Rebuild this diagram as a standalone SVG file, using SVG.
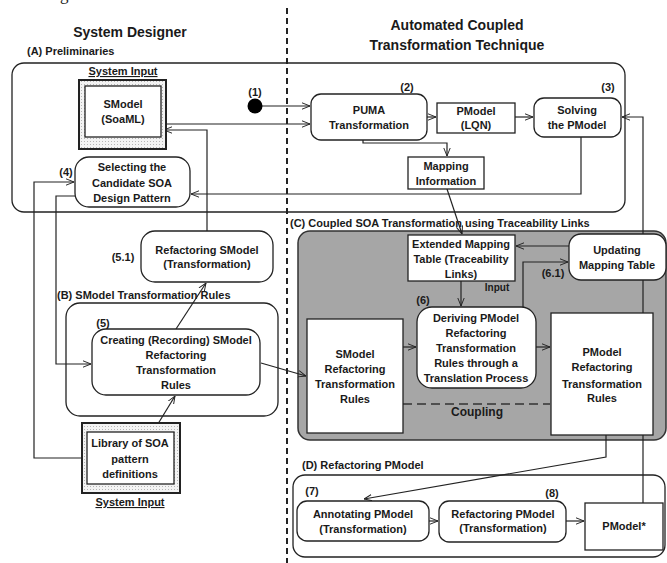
<svg xmlns="http://www.w3.org/2000/svg" width="667" height="563" viewBox="0 0 667 563">
  <defs>
    <style>
      text { font-family: "Liberation Sans", Arial, sans-serif; font-weight: bold; fill: #1a1a1a; }
      .t { font-size: 11px; text-anchor: middle; }
      .lbl { font-size: 11px; }
      .num { font-size: 11px; text-anchor: middle; }
      .title { font-size: 14px; text-anchor: middle; }
      .box { fill: #fff; stroke: #222; stroke-width: 1.3; }
      .frame { fill: none; stroke: #222; stroke-width: 1.3; }
      .edge { fill: none; stroke: #222; stroke-width: 1.2; }
      .ul { text-decoration: underline; }
    </style>
    <pattern id="stipple" width="3" height="3" patternUnits="userSpaceOnUse">
      <rect width="3" height="3" fill="#f3f3f3"/>
      <rect width="1" height="1" fill="#b5b5b5"/>
    </pattern>
    <marker id="arr" viewBox="0 0 10 10" refX="10" refY="5" markerWidth="8" markerHeight="8" orient="auto" markerUnits="userSpaceOnUse">
      <path d="M0,1 L10,5 L0,9" fill="none" stroke="#222" stroke-width="1.2"/>
    </marker>
  </defs>

  <rect width="667" height="563" fill="#fff"/>

  <!-- caption fragment at the top edge -->
  <text x="60" y="0" style="font-family:'Liberation Serif',serif;font-weight:normal;font-size:17px">g</text>

  <!-- lane headings and divider -->
  <text class="title" x="130" y="37">System Designer</text>
  <text class="title" x="457" y="30">Automated Coupled</text>
  <text class="title" x="457" y="50">Transformation Technique</text>
  <line x1="287" y1="8" x2="287" y2="563" stroke="#222" stroke-width="2" stroke-dasharray="6,4"/>

  <!-- section frames -->
  <g id="sectionA">
    <text class="lbl" x="27" y="55">(A) Preliminaries</text>
    <rect class="frame" x="12" y="63" width="613" height="149" rx="12"/>
  </g>
  <g id="sectionB">
    <text class="lbl" x="57" y="299">(B) SModel Transformation Rules</text>
    <rect class="frame" x="66" y="303" width="212" height="113" rx="14"/>
  </g>
  <g id="sectionC">
    <rect x="298" y="231" width="368" height="209" rx="12" fill="#a6a6a6" stroke="#333" stroke-width="1.5"/>
    <text class="lbl" x="290" y="227">(C) Coupled SOA Transformation using Traceability Links</text>
    <text x="477" y="416" style="font-size:12px;text-anchor:middle">Coupling</text>
  </g>
  <g id="sectionD">
    <text class="lbl" x="302" y="469">(D) Refactoring PModel</text>
    <rect class="frame" x="293" y="475" width="372" height="82" rx="12"/>
  </g>

  <!-- connectors -->
  <g id="connectors">
    <path class="edge" d="M262,106 H310" marker-end="url(#arr)"/>
    <path class="edge" d="M161,124 H310" marker-end="url(#arr)"/>
    <path class="edge" d="M207,231 V130 H164" marker-end="url(#arr)"/>
    <path class="edge" d="M427,117 H436" marker-end="url(#arr)"/>
    <path class="edge" d="M515,117 H533" marker-end="url(#arr)"/>
    <path class="edge" d="M581,137 V194 H191" marker-end="url(#arr)"/>
    <path class="edge" d="M363,140 V143 H447 V156" marker-end="url(#arr)"/>
    <path class="edge" d="M447,189 L462,234" marker-end="url(#arr)"/>
    <path class="edge" d="M643,503 V117 H622" marker-end="url(#arr)"/>
    <path class="edge" d="M569,246 H516" marker-end="url(#arr)"/>
    <path class="edge" d="M523,307 V262 H568" marker-end="url(#arr)"/>
    <path class="edge" d="M461,281 V306" marker-end="url(#arr)"/>
    <path class="edge" d="M403,347 H416" marker-end="url(#arr)"/>
    <path class="edge" d="M536,347 H550" marker-end="url(#arr)"/>
    <path class="edge" d="M261,363 L306,376" marker-end="url(#arr)"/>
    <path class="edge" d="M606,435 V457 L364,499" marker-end="url(#arr)"/>
    <path class="edge" d="M429,521 H438" marker-end="url(#arr)"/>
    <path class="edge" d="M566,521 H584" marker-end="url(#arr)"/>
    <path class="edge" d="M176,329 L206,283" marker-end="url(#arr)"/>
    <path class="edge" d="M153,432 L175,396" marker-end="url(#arr)"/>
    <path class="edge" d="M87,458 H34 V182 H74" marker-end="url(#arr)"/>
    <path class="edge" d="M75,196 H56 V364 H91" marker-end="url(#arr)"/>
    <path d="M403,404 H550" fill="none" stroke="#333" stroke-width="1.3" stroke-dasharray="9,5"/>
  </g>

  <!-- nodes -->
  <g id="smodel">
    <text class="t ul" x="123" y="75">System Input</text>
    <rect x="79" y="80" width="87" height="69" fill="url(#stipple)" stroke="#222" stroke-width="2"/>
    <rect class="box" x="85" y="86" width="76" height="51" stroke-width="1.5"/>
    <text class="t" x="123" y="108">SModel</text>
    <text class="t" x="123" y="123">(SoaML)</text>
  </g>

  <g id="start">
    <circle cx="255" cy="106" r="7.5" fill="#000"/>
    <text class="num" x="255" y="96">(1)</text>
  </g>

  <g id="puma">
    <rect class="box" x="311" y="94" width="116" height="46" rx="10"/>
    <text class="t" x="369" y="114">PUMA</text>
    <text class="t" x="369" y="129">Transformation</text>
    <text class="num" x="407" y="91">(2)</text>
  </g>

  <g id="pmodelLqn">
    <rect class="box" x="437" y="103" width="78" height="30"/>
    <text class="t" x="476" y="115">PModel</text>
    <text class="t" x="476" y="129">(LQN)</text>
  </g>

  <g id="solving">
    <rect class="box" x="534" y="98" width="87" height="39" rx="10"/>
    <text class="t" x="577" y="114">Solving</text>
    <text class="t" x="577" y="129">the PModel</text>
    <text class="num" x="608" y="91">(3)</text>
  </g>

  <g id="mappingInfo">
    <rect class="box" x="408" y="157" width="76" height="32"/>
    <text class="t" x="446" y="170">Mapping</text>
    <text class="t" x="446" y="185">Information</text>
  </g>

  <g id="selecting">
    <rect class="box" x="75" y="157" width="115" height="50" rx="14"/>
    <text class="t" x="132" y="171">Selecting the</text>
    <text class="t" x="132" y="187">Candidate SOA</text>
    <text class="t" x="132" y="202">Design Pattern</text>
    <text class="num" x="66" y="176">(4)</text>
  </g>

  <g id="refactorSModel">
    <rect class="box" x="141" y="231" width="132" height="51" rx="14"/>
    <text class="t" x="207" y="254">Refactoring SModel</text>
    <text class="t" x="207" y="268">(Transformation)</text>
    <text class="num" x="123" y="261">(5.1)</text>
  </g>

  <g id="creating">
    <rect class="box" x="92" y="329" width="168" height="66" rx="14"/>
    <text class="t" x="176" y="344">Creating (Recording) SModel</text>
    <text class="t" x="176" y="359">Refactoring</text>
    <text class="t" x="176" y="374">Transformation</text>
    <text class="t" x="176" y="389">Rules</text>
    <text class="num" x="103" y="327">(5)</text>
  </g>

  <g id="library">
    <rect x="82" y="423" width="98" height="70" fill="url(#stipple)" stroke="#222" stroke-width="2"/>
    <rect class="box" x="87" y="432" width="87" height="52" stroke-width="1.5"/>
    <text class="t" x="130" y="447">Library of SOA</text>
    <text class="t" x="130" y="463">pattern</text>
    <text class="t" x="130" y="478">definitions</text>
    <text class="t ul" x="130" y="506">System Input</text>
  </g>

  <g id="extendedTable">
    <rect class="box" x="408" y="235" width="107" height="46"/>
    <text class="t" x="461" y="248">Extended Mapping</text>
    <text class="t" x="461" y="263">Table (Traceability</text>
    <text class="t" x="461" y="278">Links)</text>
    <text x="497" y="291" style="font-size:10px;text-anchor:middle">Input</text>
  </g>

  <g id="updating">
    <rect class="box" x="569" y="234" width="97" height="46" rx="12"/>
    <text class="t" x="617" y="254">Updating</text>
    <text class="t" x="617" y="269">Mapping Table</text>
    <text class="num" x="553" y="277">(6.1)</text>
  </g>

  <g id="deriving">
    <rect class="box" x="417" y="307" width="119" height="81" rx="15"/>
    <text class="t" x="476" y="322">Deriving PModel</text>
    <text class="t" x="476" y="337">Refactoring</text>
    <text class="t" x="476" y="352">Transformation</text>
    <text class="t" x="476" y="367">Rules through a</text>
    <text class="t" x="476" y="382">Translation Process</text>
    <text class="num" x="423" y="304">(6)</text>
  </g>

  <g id="smodelRules">
    <rect class="box" x="307" y="319" width="96" height="114"/>
    <text class="t" x="355" y="358">SModel</text>
    <text class="t" x="355" y="373">Refactoring</text>
    <text class="t" x="355" y="388">Transformation</text>
    <text class="t" x="355" y="403">Rules</text>
  </g>

  <g id="pmodelRules">
    <rect class="box" x="551" y="313" width="102" height="122"/>
    <text class="t" x="602" y="356">PModel</text>
    <text class="t" x="602" y="371">Refactoring</text>
    <text class="t" x="602" y="388">Transformation</text>
    <text class="t" x="602" y="402">Rules</text>
  </g>

  <g id="annotating">
    <rect class="box" x="297" y="501" width="132" height="40" rx="10"/>
    <text class="t" x="363" y="518">Annotating PModel</text>
    <text class="t" x="363" y="533">(Transformation)</text>
    <text class="num" x="312" y="495">(7)</text>
  </g>

  <g id="refactorPModel">
    <rect class="box" x="439" y="501" width="127" height="41" rx="10"/>
    <text class="t" x="503" y="518">Refactoring PModel</text>
    <text class="t" x="503" y="532">(Transformation)</text>
    <text class="num" x="552" y="497">(8)</text>
  </g>

  <g id="pmodelStar">
    <rect class="box" x="585" y="503" width="78" height="47"/>
    <text class="t" x="624" y="530">PModel*</text>
  </g>
</svg>
